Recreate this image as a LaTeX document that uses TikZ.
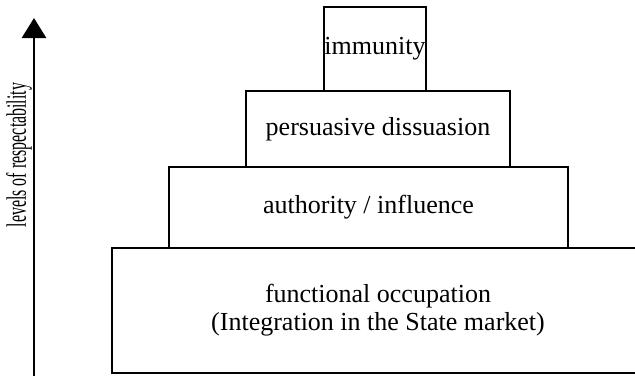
\documentclass[tikz,border=0pt]{standalone}
\usepackage{graphicx}
\usepackage{fontspec}
\setmainfont{Liberation Serif}
\usetikzlibrary{arrows.meta,positioning}

\begin{document}
\begin{tikzpicture}[x=0.5pt, y=-0.5pt, >=Stealth,
      font=\fontsize{13}{14}\selectfont,
      tier/.style={draw, line width=1.4pt, outer sep=0pt, inner sep=0pt,
                   align=center},
      axisline/.style={-{Triangle[width=12pt, length=10pt]}, line width=1.4pt}
    ]
    \useasboundingbox (0,0) rectangle (635,375);

    % pyramid of levels, bottom up
    \node[tier, minimum width=266pt, minimum height=62.5pt] (func) at (378,310.5)
         {functional occupation\\(Integration in the State market)};
    \node[tier, minimum width=199.5pt, minimum height=40.5pt,
          above=0pt of func, xshift=-4.75pt] (auth) {authority / influence};
    \node[tier, minimum width=132pt, minimum height=38pt,
          above=0pt of auth, xshift=4.75pt] (pers) {persuasive dissuasion};
    \node[tier, minimum width=51pt, minimum height=42pt,
          above=0pt of pers, xshift=-1.5pt] (immu) {immunity};

    % axis
    \coordinate (axbase) at (34,376);
    \coordinate (axtip) at (34,18);
    \draw[axisline] (axbase) -- (axtip);
    \node[rotate=90, inner sep=0pt] (axlabel) at (19,155)
         {\scalebox{0.57}[1]{\fontsize{14}{16}\selectfont levels of respectability}};
  \end{tikzpicture}
\end{document}
